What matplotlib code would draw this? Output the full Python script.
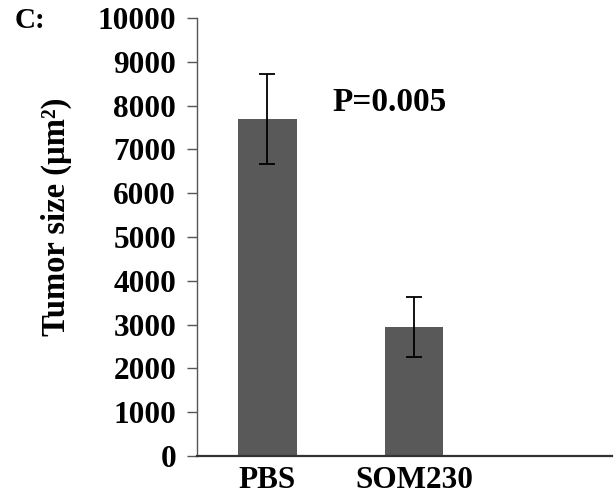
import matplotlib
matplotlib.use("Agg")
import matplotlib.pyplot as plt

categories = ["PBS", "SOM230"]
values = [7700, 2950]
errors = [1030, 690]
yticks = [0, 1000, 2000, 3000, 4000, 5000, 6000, 7000, 8000, 9000, 10000]

plt.rcParams['font.family'] = ['Liberation Serif', 'DejaVu Serif']
plt.rcParams['font.weight'] = 'bold'

fig = plt.figure(figsize=(6.16, 4.97), dpi=100)
ax = fig.add_axes([0.3198, 0.0825, 0.6737, 0.8813])

x = list(range(len(categories)))
ax.bar(x, values, width=0.4, color='#595959', zorder=2)
ax.errorbar(x, values, yerr=errors, fmt='none', ecolor='black', elinewidth=1.3,
            capsize=6, capthick=1.3, zorder=3)

ax.set_xlim(-0.48, 2.35)
ax.set_ylim(0, 10000)
ax.set_yticks(yticks)
ax.set_yticklabels([str(t) for t in yticks], fontsize=22.5, fontweight='bold')
ax.set_xticks(x)
ax.set_xticklabels(categories, fontsize=22.5, fontweight='bold')
ax.tick_params(axis='x', length=0, pad=7)
ax.tick_params(axis='y', length=7, width=1, color='#555555', direction='out', pad=8)

for s in ['top', 'right']:
    ax.spines[s].set_visible(False)
ax.spines['left'].set_color('#555555')
ax.spines['left'].set_linewidth(1)
ax.spines['bottom'].set_color('#333333')
ax.spines['bottom'].set_linewidth(1.6)

fig.text(0.091, 0.563, "Tumor size (µm²)", fontsize=23.5, fontweight='bold',
         rotation=90, ha='center', va='center')
ax.text(0.83, 8060, "P=0.005", fontsize=24, fontweight='bold', ha='center', va='center')
fig.text(0.024, 0.958, "C:", fontsize=21, fontweight='bold', ha='left', va='center')

fig.savefig("out.png", dpi=100)
